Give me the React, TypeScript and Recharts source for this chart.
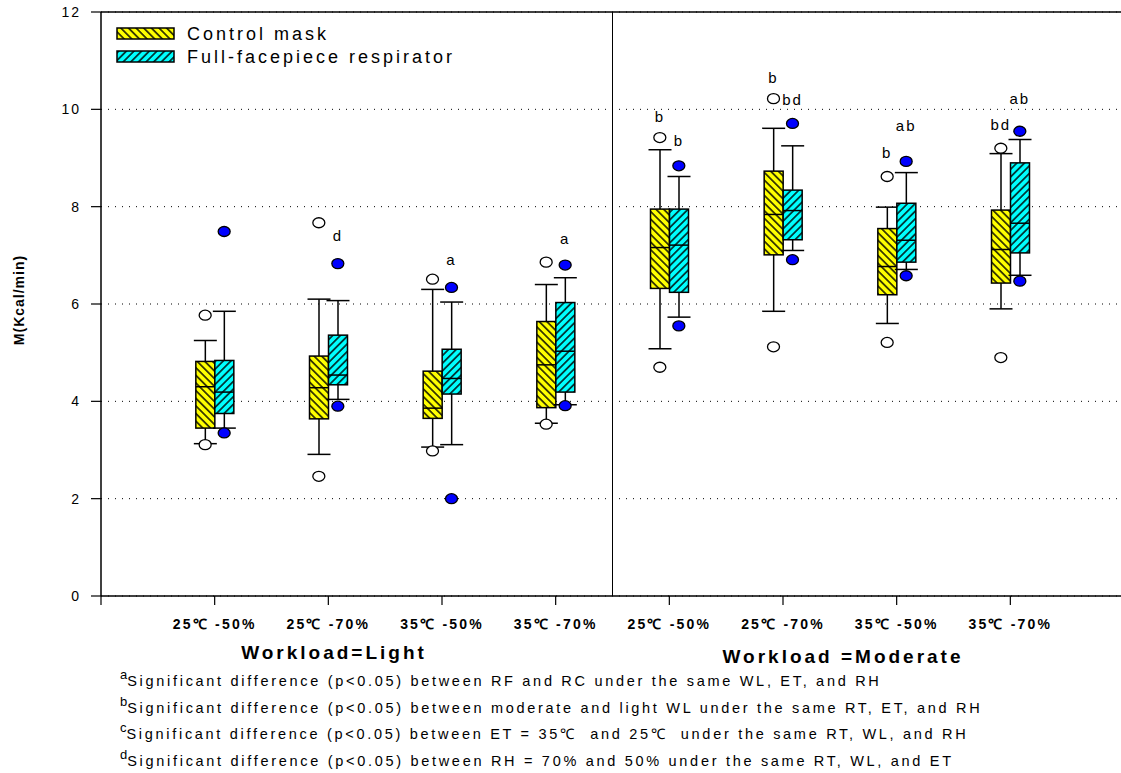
import React from 'react';
import {
  ComposedChart, Bar, Scatter, XAxis, YAxis, CartesianGrid, ReferenceLine
} from 'recharts';

// conditions (ET - RH), first four light workload, last four moderate
const categories = [
  '25℃ -50%', '25℃ -70%', '35℃ -50%', '35℃ -70%',
  '25℃ -50%', '25℃ -70%', '35℃ -50%', '35℃ -70%',
];
const yTicks = [0, 2, 4, 6, 8, 10, 12];

// Control mask
const cMin = [3.13, 2.91, 3.06, 3.55, 5.08, 5.85, 5.60, 5.90];
const cQ1 = [3.45, 3.64, 3.65, 3.87, 6.32, 7.01, 6.19, 6.43];
const cMed = [4.30, 4.28, 3.86, 4.75, 7.16, 7.84, 6.77, 7.12];
const cQ3 = [4.82, 4.93, 4.62, 5.64, 7.95, 8.73, 7.55, 7.93];
const cMax = [5.25, 6.10, 6.30, 6.40, 9.17, 9.61, 7.99, 9.09];
const cOutHigh = [5.77, 7.67, 6.51, 6.86, 9.42, 10.22, 8.62, 9.20];
const cOutLow = [3.11, 2.46, 2.98, 3.53, 4.70, 5.12, 5.21, 4.90];
const cSig = ['', '', '', '', 'b', 'b', 'b', 'bd'];
const cSigY = [0, 0, 0, 0, 9.86, 10.65, 9.12, 9.69];

// Full-facepiece respirator
const rMin = [3.45, 4.04, 3.11, 3.93, 5.73, 7.10, 6.71, 6.59];
const rQ1 = [3.75, 4.34, 4.15, 4.19, 6.24, 7.32, 6.86, 7.05];
const rMed = [4.19, 4.54, 4.47, 5.03, 7.21, 7.92, 7.31, 7.66];
const rQ3 = [4.84, 5.36, 5.07, 6.03, 7.95, 8.34, 8.07, 8.90];
const rMax = [5.85, 6.07, 6.04, 6.54, 8.62, 9.25, 8.70, 9.38];
const rOutHigh = [7.49, 6.83, 6.34, 6.80, 8.84, 9.71, 8.93, 9.55];
const rOutLow = [3.35, 3.90, 2.00, 3.91, 5.55, 6.91, 6.58, 6.47];
const rSig = ['', 'd', 'a', 'a', 'b', 'bd', 'ab', 'ab'];
const rSigY = [0, 7.41, 6.92, 7.34, 9.35, 10.20, 9.67, 10.22];

const footnotes = [
  ['a', 'Significant difference (p<0.05) between RF and RC under the same WL, ET, and RH'],
  ['b', 'Significant difference (p<0.05) between moderate and light WL under the same RT, ET, and RH'],
  ['c', 'Significant difference (p<0.05) between ET = 35℃  and 25℃  under the same RT, WL, and RH'],
  ['d', 'Significant difference (p<0.05) between RH = 70% and 50% under the same RT, WL, and ET'],
];

const rows = categories.map((c, i) => ({
  x: i + 1,
  name: c,
  ctrl: [cMin[i], cMax[i]],
  cMin: cMin[i], cQ1: cQ1[i], cMed: cMed[i], cQ3: cQ3[i], cMax: cMax[i],
  resp: [rMin[i], rMax[i]],
  rMin: rMin[i], rQ1: rQ1[i], rMed: rMed[i], rQ3: rQ3[i], rMax: rMax[i],
}));

const ctrlOut = [
  ...cOutHigh.map((v, i) => ({ x: i + 1, y: v })),
  ...cOutLow.map((v, i) => ({ x: i + 1, y: v })),
];
const respOut = [
  ...rOutHigh.map((v, i) => ({ x: i + 1, y: v })),
  ...rOutLow.map((v, i) => ({ x: i + 1, y: v })),
];
const ctrlSig = cSig.map((t, i) => ({ x: i + 1, y: cSigY[i], t })).filter(p => p.t);
const respSig = rSig.map((t, i) => ({ x: i + 1, y: rSigY[i], t })).filter(p => p.t);

const FONT = '"Liberation Sans", Arial, sans-serif';
const BOX_W = 19;

const makeBox = (pre: string, fillId: string) => (props: any) => {
  const { x, y, width, height, payload } = props;
  const lo = payload[pre + 'Min'];
  const hi = payload[pre + 'Max'];
  const py = (v: number) => y + (height * (hi - v)) / (hi - lo);
  const cx = x + width / 2;
  const top = py(hi);
  const bot = py(lo);
  const q1 = py(payload[pre + 'Q1']);
  const q3 = py(payload[pre + 'Q3']);
  const md = py(payload[pre + 'Med']);
  const cap = width / 2 + 2;
  return (
    <g>
      <line x1={cx} x2={cx} y1={top} y2={bot} stroke="#000" strokeWidth={1.5} />
      <line x1={cx - cap} x2={cx + cap} y1={top} y2={top} stroke="#000" strokeWidth={1.5} />
      <line x1={cx - cap} x2={cx + cap} y1={bot} y2={bot} stroke="#000" strokeWidth={1.5} />
      <rect x={x} y={q3} width={width} height={q1 - q3} fill={`url(#${fillId})`} stroke="#000" strokeWidth={1.5} />
      <line x1={x} x2={x + width} y1={md} y2={md} stroke="#000" strokeWidth={1.5} />
    </g>
  );
};

const makeDot = (dx: number, fill: string) => (props: any) => (
  <ellipse cx={props.cx + dx} cy={props.cy} rx={6} ry={5} fill={fill} stroke="#000" strokeWidth={1.3} />
);

const makeSig = (dx: number) => (props: any) => (
  <text
    x={props.cx + dx}
    y={props.cy}
    textAnchor="middle"
    dominantBaseline="central"
    fontSize={15}
    letterSpacing={2}
    fontFamily={FONT}
    fill="#000"
  >
    {props.payload.t}
  </text>
);

const XTick = (props: any) => {
  const { x, y, payload } = props;
  if (payload.value < 1) return <g />;
  return (
    <text x={x} y={y + 24} textAnchor="middle" fontSize={14} fontWeight="bold" letterSpacing={2.2} fontFamily={FONT} fill="#000">
      {categories[payload.value - 1]}
    </text>
  );
};

const YTick = (props: any) => {
  const { x, y, payload } = props;
  return (
    <text x={x - 10} y={y} textAnchor="end" dominantBaseline="central" fontSize={14} letterSpacing={2} fontFamily={FONT} fill="#000">
      {payload.value}
    </text>
  );
};

const Swatch = ({ fillId }: { fillId: string }) => (
  <svg width={59} height={13} style={{ display: 'block' }}>
    <rect x={1} y={1} width={57} height={11} fill={`url(#${fillId})`} stroke="#000" strokeWidth={1.5} />
  </svg>
);

const App: React.FC = () => {
  return (
    <div style={{ position: 'absolute', left: 0, top: 0, width: 1121, height: 773, overflow: 'hidden', background: '#fff', fontFamily: FONT }}>
      <svg width={0} height={0} style={{ position: 'absolute' }}>
        <defs>
          <pattern id="hatchCtrl" patternUnits="userSpaceOnUse" width={5.4} height={5.4} patternTransform="rotate(-45)">
            <rect width={5.4} height={5.4} fill="#ffff00" />
            <line x1={2.7} y1={0} x2={2.7} y2={5.4} stroke="#000" strokeWidth={1.4} />
          </pattern>
          <pattern id="hatchResp" patternUnits="userSpaceOnUse" width={5.4} height={5.4} patternTransform="rotate(45)">
            <rect width={5.4} height={5.4} fill="#00ffff" />
            <line x1={2.7} y1={0} x2={2.7} y2={5.4} stroke="#000" strokeWidth={1.4} />
          </pattern>
        </defs>
      </svg>

      <ComposedChart width={1128} height={773} data={rows} margin={{ top: 12, right: 4, bottom: 137, left: 0 }} barGap={0}>
        <CartesianGrid vertical={false} stroke="#000" strokeDasharray="1 6" />
        <XAxis
          dataKey="x"
          type="number"
          domain={[0, 9]}
          ticks={[0, 1, 2, 3, 4, 5, 6, 7, 8]}
          interval={0}
          height={40}
          tickSize={9}
          tickMargin={0}
          tick={<XTick />}
          axisLine={{ stroke: '#000', strokeWidth: 1.5 }}
          tickLine={{ stroke: '#000', strokeWidth: 1.2 }}
        />
        <YAxis
          type="number"
          domain={[0, 12]}
          ticks={yTicks}
          interval={0}
          width={101}
          tickSize={10}
          tickMargin={0}
          tick={<YTick />}
          axisLine={{ stroke: '#000', strokeWidth: 1.5 }}
          tickLine={{ stroke: '#000', strokeWidth: 1.2 }}
        />
        <ReferenceLine y={12} stroke="#000" strokeWidth={1.5} />
        <ReferenceLine x={4.5} stroke="#000" strokeWidth={1} />
        <ReferenceLine x={9} stroke="#000" strokeWidth={1.5} />
        <Bar dataKey="ctrl" barSize={BOX_W} shape={makeBox('c', 'hatchCtrl')} isAnimationActive={false} />
        <Bar dataKey="resp" barSize={BOX_W} shape={makeBox('r', 'hatchResp')} isAnimationActive={false} />
        <Scatter data={ctrlOut} dataKey="y" shape={makeDot(-BOX_W / 2, '#fff')} isAnimationActive={false} />
        <Scatter data={respOut} dataKey="y" shape={makeDot(BOX_W / 2, '#0000ff')} isAnimationActive={false} />
        <Scatter data={ctrlSig} dataKey="y" shape={makeSig(-BOX_W / 2)} isAnimationActive={false} />
        <Scatter data={respSig} dataKey="y" shape={makeSig(BOX_W / 2)} isAnimationActive={false} />
      </ComposedChart>

      {/* legend */}
      <div style={{ position: 'absolute', left: 116, top: 22 }}>
        {[['hatchCtrl', 'Control mask'], ['hatchResp', 'Full-facepiece respirator']].map(([id, label]) => (
          <div key={id} style={{ display: 'flex', alignItems: 'center', height: 23 }}>
            <Swatch fillId={id} />
            <span style={{ marginLeft: 12, fontSize: 18, letterSpacing: 3, lineHeight: '20px' }}>{label}</span>
          </div>
        ))}
      </div>

      {/* y axis title */}
      <div style={{ position: 'absolute', left: 19, top: 300, transform: 'translate(-50%, -50%) rotate(-90deg)', fontSize: 14, fontWeight: 'bold', letterSpacing: 1, whiteSpace: 'nowrap' }}>
        M(Kcal/min)
      </div>

      {/* workload group titles */}
      <div style={{ position: 'absolute', left: 334, top: 653, transform: 'translate(-50%, -50%)', fontSize: 19, fontWeight: 'bold', letterSpacing: 3, whiteSpace: 'nowrap' }}>
        Workload=Light
      </div>
      <div style={{ position: 'absolute', left: 843, top: 657, transform: 'translate(-50%, -50%)', fontSize: 19, fontWeight: 'bold', letterSpacing: 3, whiteSpace: 'nowrap' }}>
        Workload =Moderate
      </div>

      {/* footnotes */}
      {footnotes.map(([sup, txt], i) => (
        <div key={sup} style={{ position: 'absolute', left: 120, top: 672 + i * 26.5, whiteSpace: 'pre', lineHeight: '18px' }}>
          <span style={{ fontSize: 13, position: 'relative', top: -7 }}>{sup}</span>
          <span style={{ fontSize: 14.5, letterSpacing: 2.7 }}>{txt}</span>
        </div>
      ))}
    </div>
  );
};

export default App;
